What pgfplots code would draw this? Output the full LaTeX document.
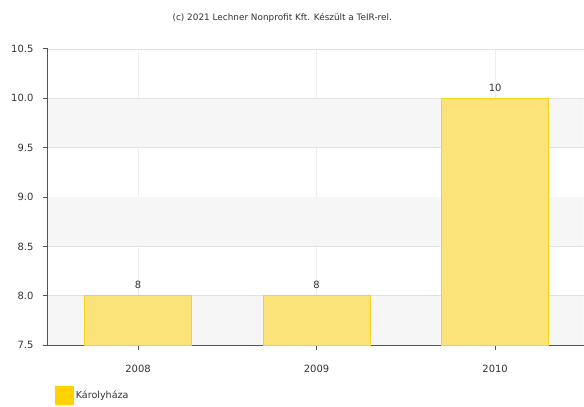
\documentclass[border=0pt]{standalone}
\usepackage{pgfplots}
\pgfplotsset{compat=1.18}
\usepackage{fontspec}
\setmainfont{DejaVu Sans}
\definecolor{barfill}{HTML}{FBE37A}
\definecolor{bardraw}{HTML}{F7D417}
\definecolor{legfill}{HTML}{FFD200}
\definecolor{bandgray}{HTML}{F6F6F6}
\definecolor{gridc}{HTML}{E2E2E2}
\definecolor{vgridc}{HTML}{EEEEEE}
\definecolor{axc}{HTML}{555555}
\definecolor{txt}{HTML}{333333}
\begin{document}
\begin{tikzpicture}
\node[font=\fontsize{8.9}{10}\selectfont, text=txt] at (283pt,390pt) {(c) 2021 Lechner Nonprofit Kft. Készült a TeIR-rel.};
\begin{axis}[
  at={(48pt,62pt)}, anchor=south west,
  scale only axis, width=537pt, height=297pt,
  xmin=-0.505, xmax=2.495, ymin=7.5, ymax=10.5,
  xtick=data, xticklabels={2008,2009,2010},
  ytick={7.5,8,8.5,9,9.5,10,10.5},
  yticklabel style={xshift=-6pt, /pgf/number format/.cd, fixed, fixed zerofill, precision=1},
  xticklabel style={yshift=-11pt},
  /pgf/number format/assume math mode=true,
  ticklabel style={font=\fontsize{10}{12}\selectfont, text=txt},
  axis x line*=bottom, axis y line*=left,
  tick align=outside, major tick length=5pt,
  major tick style={draw=axc, line width=0.8pt},
  axis line style={axc, line width=1pt, -},
  ymajorgrids, xmajorgrids,
  y grid style={gridc, line width=0.5pt},
  x grid style={vgridc, line width=0.5pt},
  ybar, bar width=107pt,
  nodes near coords,
  nodes near coords style={yshift=3pt, font=\fontsize{10}{12}\selectfont, text=txt, /pgf/number format/.cd, fixed, precision=0},
  legend style={at={(axis description cs:0,0)}, anchor=north west, xshift=4pt, yshift=-39pt, draw=none, fill=none, font=\fontsize{9.6}{11}\selectfont, text=txt, /tikz/every even column/.append style={column sep=6pt}},
  legend image code/.code={\fill[legfill] (0pt,-9pt) rectangle (18pt,9pt);},
]
\fill[bandgray] (axis cs:-0.505,7.503) rectangle (axis cs:2.495,7.997);
\fill[bandgray] (axis cs:-0.505,8.503) rectangle (axis cs:2.495,8.997);
\fill[bandgray] (axis cs:-0.505,9.503) rectangle (axis cs:2.495,9.997);
\addplot[fill=barfill, draw=bardraw, line width=0.8pt] coordinates {(0,8) (1,8) (2,10)};
\addlegendentry{Károlyháza}
\end{axis}
\path (0pt,0pt) rectangle (584pt,408pt);
\end{tikzpicture}
\end{document}
